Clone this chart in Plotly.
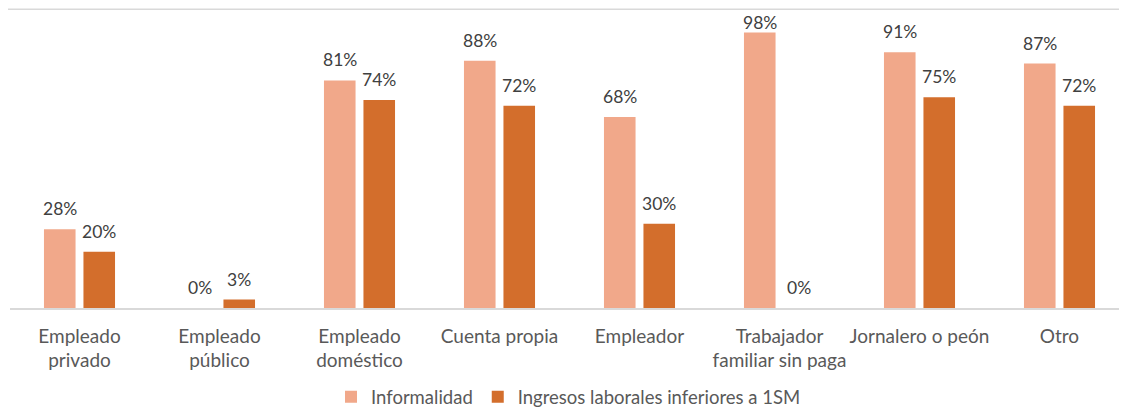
import plotly.graph_objects as go

categories = ["Empleado<br>privado", "Empleado<br>público", "Empleado<br>doméstico", "Cuenta propia",
              "Empleador", "Trabajador<br>familiar sin paga", "Jornalero o peón", "Otro"]
informalidad = [0.28, 0.00, 0.81, 0.88, 0.68, 0.98, 0.91, 0.87]
ingresos = [0.20, 0.03, 0.74, 0.72, 0.30, 0.00, 0.75, 0.72]
series_names = ["Informalidad", "Ingresos laborales inferiores a 1SM"]
colors = ["#F1A88A", "#D36E2C"]

FONT = "Lato"
FS = 18.5
# The page body has an 8px margin, so the figure is sized/offset to compensate.
OFF = 8
W, H = 1127 - OFF, 412 - OFF
T, B = 26.5 - OFF, 103.5
PH = H - T - B
CAT_PX = 140.0            # pixel width of one category
BARGAP, GROUPGAP = 0.436, 0.2
slot_px = CAT_PX * (1 - BARGAP) / 2

fig = go.Figure()
annotations = []
for i, (name, vals, col) in enumerate(zip(series_names, [informalidad, ingresos], colors)):
    fig.add_trace(go.Bar(
        x=categories, y=vals, name=name, marker=dict(color=col, line=dict(width=0)),
    ))
    shift = (i - 0.5) * slot_px
    for c, v in zip(categories, vals):
        # keep labels inside the chart area (like the original, labels near the top get pulled down)
        bar_top_fig = T + (1 - v) * PH
        ys = min(8, bar_top_fig - 12 - (23 - OFF))
        annotations.append(dict(
            x=c, y=v, xref="x", yref="y", text=f"{round(v*100)}%", showarrow=False,
            xanchor="center", yanchor="bottom", xshift=shift, yshift=ys,
            font=dict(family=FONT, size=17.5, color="#404040"),
        ))

plot_w = W - 2
fig.update_layout(
    width=W, height=H,
    margin=dict(l=2, r=0, t=T, b=B, autoexpand=False),
    plot_bgcolor="white", paper_bgcolor="white",
    barmode="group", bargap=BARGAP, bargroupgap=GROUPGAP,
    font=dict(family=FONT, size=FS, color="#595959"),
    showlegend=True,
    legend=dict(orientation="h", x=0.5, xanchor="center",
                y=-((398 - OFF) - (H - B)) / PH, yanchor="middle",
                font=dict(family=FONT, size=FS, color="#595959"), itemwidth=30),
    annotations=annotations,
    shapes=[dict(type="line", xref="paper", yref="paper", x0=-0.02, x1=1.02,
                 y0=(H - B - 0.75) / PH, y1=(H - B - 0.75) / PH,
                 line=dict(color="#D9D9D9", width=1.5))],
)
left = -0.5 + (10 - 9.5) / CAT_PX
fig.update_xaxes(showline=True, linecolor="#D9D9D9", linewidth=1.5, ticks="",
                 range=[left, left + plot_w / CAT_PX],
                 tickfont=dict(family=FONT, size=19, color="#595959"), ticklabelstandoff=10)
fig.update_yaxes(range=[0, 1.0], showgrid=False, showticklabels=False, zeroline=False, visible=False)

fig.write_html("out.html")
